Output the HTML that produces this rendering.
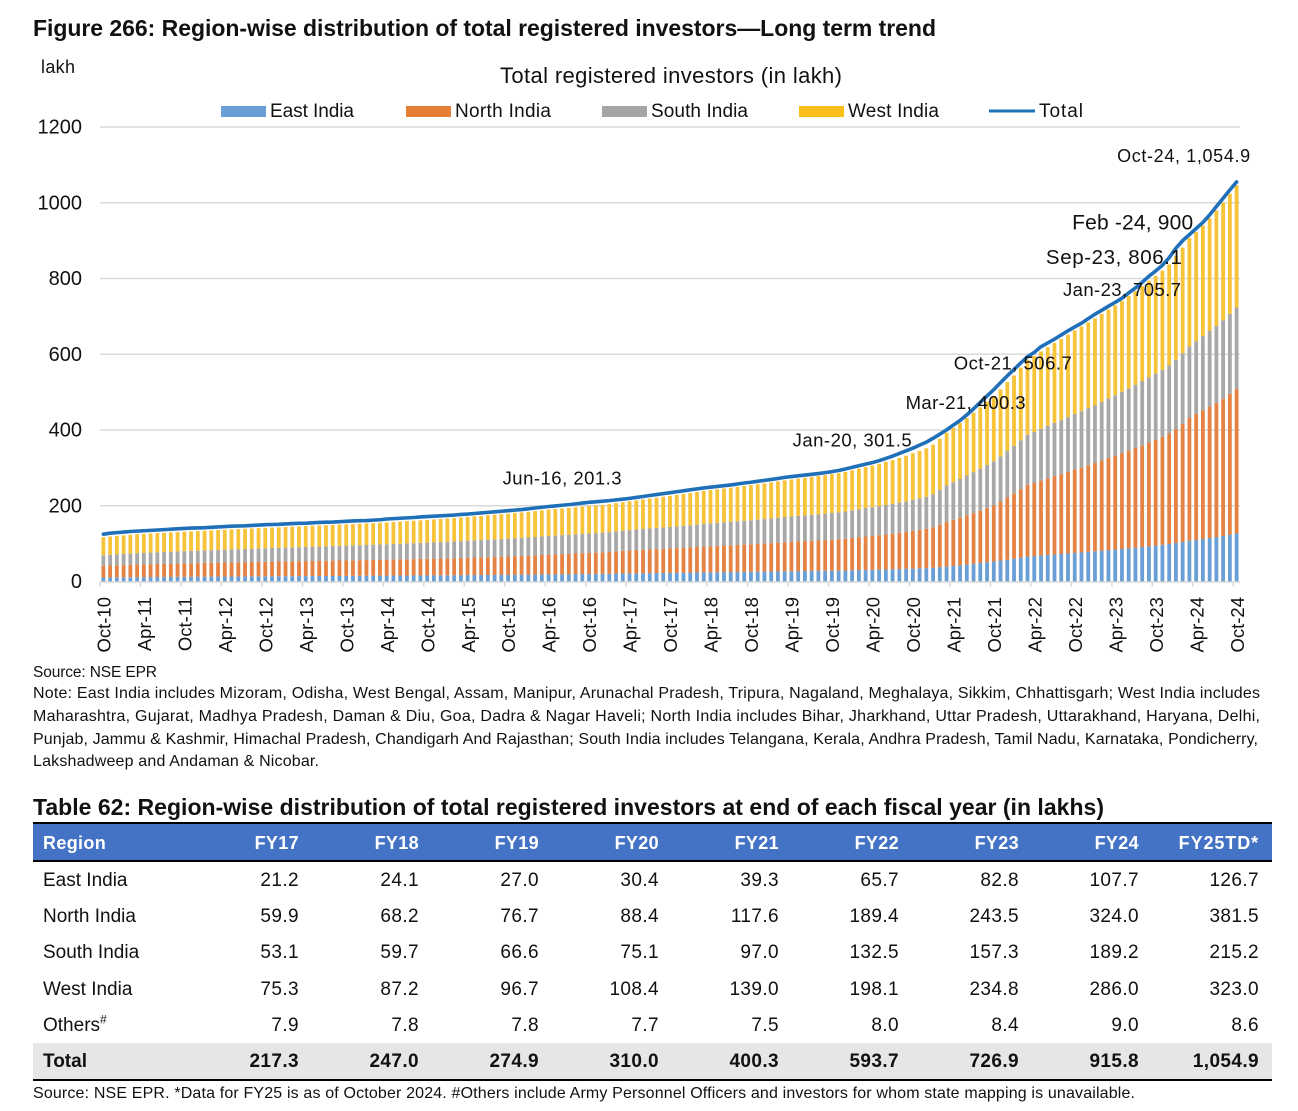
<!DOCTYPE html>
<html lang="en">
<head>
<meta charset="utf-8">
<title>Region-wise distribution of total registered investors</title>
<style>
html,body{margin:0;padding:0;background:#fff;}
body{position:relative;width:1298px;height:1111px;overflow:hidden;font-family:"Liberation Sans",sans-serif;color:#111;}
#page-svg{position:absolute;left:0;top:0;}
#page-svg text{font-family:"Liberation Sans",sans-serif;fill:#111;}
#table{position:absolute;left:33px;top:824px;width:1239px;border-collapse:collapse;table-layout:fixed;font-size:19px;letter-spacing:.4px;}
#table th,#table td{padding:0 13px 0 10px;text-align:right;white-space:nowrap;font-weight:normal;box-sizing:border-box;}
#table th{height:37px;padding-top:2px;background:#4472C4;color:#fff;font-weight:bold;font-size:18px;letter-spacing:.35px;border-bottom:2px solid #000;}
#table th.wide{letter-spacing:.9px;}
#table td{height:36.4px;padding-top:3px;}
#table td:first-child{letter-spacing:0;}
#table th:first-child,#table td:first-child{text-align:left;}
#table tr.total td{background:#E7E6E6;font-weight:bold;height:37px;border-bottom:2px solid #000;}
#table sup{font-size:12px;line-height:0;}
</style>
</head>
<body>
<svg id="page-svg" width="1298" height="1111" viewBox="0 0 1298 1111" xmlns="http://www.w3.org/2000/svg">
  <text x="33" y="36" font-size="23" font-weight="bold" textLength="903" lengthAdjust="spacing">Figure 266: Region-wise distribution of total registered investors—Long term trend</text>
  <text x="41" y="73" font-size="18" textLength="34" lengthAdjust="spacing">lakh</text>
  <text x="500" y="83" font-size="22" textLength="342" lengthAdjust="spacing">Total registered investors (in lakh)</text>

  <g>
    <rect x="221" y="106" width="45" height="11" fill="#6A9FD6"/>
    <text x="270" y="117" font-size="19" textLength="84" lengthAdjust="spacing">East India</text>
    <rect x="406" y="106" width="45" height="11" fill="#E57F38"/>
    <text x="455" y="117" font-size="19" textLength="96" lengthAdjust="spacing">North India</text>
    <rect x="602" y="106" width="45" height="11" fill="#A5A5A5"/>
    <text x="651" y="117" font-size="19" textLength="97" lengthAdjust="spacing">South India</text>
    <rect x="799" y="106" width="45" height="11" fill="#FBBF1C"/>
    <text x="848" y="117" font-size="19" textLength="91" lengthAdjust="spacing">West India</text>
    <line x1="989" y1="111" x2="1035" y2="111" stroke="#1F70B8" stroke-width="3"/>
    <text x="1039" y="117" font-size="19" textLength="44" lengthAdjust="spacing">Total</text>
  </g>

  <g id="grid"></g>
  <g id="yticks"></g>
  <g id="bars"></g>
  <g id="xaxis"></g>
  <path id="total-line" fill="none" stroke="#1F70B8" stroke-width="3.6" stroke-linejoin="round" stroke-linecap="round"></path>
  <g id="annotations"></g>

  <g font-size="16">
    <text x="33" y="677" font-size="15.5" textLength="124" lengthAdjust="spacing">Source: NSE EPR</text>
    <text x="33" y="698" font-size="16" textLength="1227" lengthAdjust="spacing">Note: East India includes Mizoram, Odisha, West Bengal, Assam, Manipur, Arunachal Pradesh, Tripura, Nagaland, Meghalaya, Sikkim, Chhattisgarh; West India includes</text>
    <text x="33" y="721" font-size="16" textLength="1227" lengthAdjust="spacing">Maharashtra, Gujarat, Madhya Pradesh, Daman &amp; Diu, Goa, Dadra &amp; Nagar Haveli; North India includes Bihar, Jharkhand, Uttar Pradesh, Uttarakhand, Haryana, Delhi,</text>
    <text x="33" y="744" font-size="16" textLength="1225" lengthAdjust="spacing">Punjab, Jammu &amp; Kashmir, Himachal Pradesh, Chandigarh And Rajasthan; South India includes Telangana, Kerala, Andhra Pradesh, Tamil Nadu, Karnataka, Pondicherry,</text>
    <text x="33" y="766" font-size="16" textLength="286" lengthAdjust="spacing">Lakshadweep and Andaman &amp; Nicobar.</text>
  </g>

  <text x="33" y="815" font-size="23" font-weight="bold" textLength="1071" lengthAdjust="spacing">Table 62: Region-wise distribution of total registered investors at end of each fiscal year (in lakhs)</text>
  <rect x="33" y="822" width="1239" height="2" fill="#000"/>
  <text x="33" y="1098" font-size="16" textLength="1102" lengthAdjust="spacing">Source: NSE EPR. *Data for FY25 is as of October 2024. #Others include Army Personnel Officers and investors for whom state mapping is unavailable.</text>
</svg>

<table id="table">
  <colgroup><col style="width:159px"><col style="width:120px"><col style="width:120px"><col style="width:120px"><col style="width:120px"><col style="width:120px"><col style="width:120px"><col style="width:120px"><col style="width:120px"></colgroup>
  <tr><th>Region</th><th>FY17</th><th>FY18</th><th>FY19</th><th>FY20</th><th>FY21</th><th>FY22</th><th>FY23</th><th>FY24</th><th class="wide">FY25TD*</th></tr>
  <tr><td>East India</td><td>21.2</td><td>24.1</td><td>27.0</td><td>30.4</td><td>39.3</td><td>65.7</td><td>82.8</td><td>107.7</td><td>126.7</td></tr>
  <tr><td>North India</td><td>59.9</td><td>68.2</td><td>76.7</td><td>88.4</td><td>117.6</td><td>189.4</td><td>243.5</td><td>324.0</td><td>381.5</td></tr>
  <tr><td>South India</td><td>53.1</td><td>59.7</td><td>66.6</td><td>75.1</td><td>97.0</td><td>132.5</td><td>157.3</td><td>189.2</td><td>215.2</td></tr>
  <tr><td>West India</td><td>75.3</td><td>87.2</td><td>96.7</td><td>108.4</td><td>139.0</td><td>198.1</td><td>234.8</td><td>286.0</td><td>323.0</td></tr>
  <tr><td>Others<sup>#</sup></td><td>7.9</td><td>7.8</td><td>7.8</td><td>7.7</td><td>7.5</td><td>8.0</td><td>8.4</td><td>9.0</td><td>8.6</td></tr>
  <tr class="total"><td>Total</td><td>217.3</td><td>247.0</td><td>274.9</td><td>310.0</td><td>400.3</td><td>593.7</td><td>726.9</td><td>915.8</td><td>1,054.9</td></tr>
</table>

<script>
const yTicks = [0, 200, 400, 600, 800, 1000, 1200];
const tickLabels = ["Oct-10","Apr-11","Oct-11","Apr-12","Oct-12","Apr-13","Oct-13","Apr-14","Oct-14","Apr-15","Oct-15","Apr-16","Oct-16","Apr-17","Oct-17","Apr-18","Oct-18","Apr-19","Oct-19","Apr-20","Oct-20","Apr-21","Oct-21","Apr-22","Oct-22","Apr-23","Oct-23","Apr-24","Oct-24"];

const eastIndia = [10.5,10.7,10.9,11,11.2,11.4,
11.5,11.7,11.8,12,12.1,12.3,12.4,12.5,12.6,12.8,12.9,13,
13.1,13.2,13.3,13.4,13.5,13.6,13.7,13.8,13.9,14,14.1,14.2,
14.3,14.4,14.5,14.6,14.7,14.8,14.9,15,15.1,15.2,15.3,15.4,
15.5,15.6,15.7,15.8,15.9,16,16.1,16.2,16.3,16.4,16.5,16.6,
16.8,16.9,17,17.2,17.3,17.5,17.6,17.8,17.9,18.1,18.3,18.5,
18.7,18.9,19.1,19.3,19.5,19.7,19.9,20.1,20.3,20.6,20.9,21.2,
21.4,21.6,21.9,22.1,22.3,22.6,22.8,23,23.3,23.5,23.8,24.1,
24.3,24.5,24.8,25,25.2,25.4,25.6,25.9,26.1,26.4,26.7,27,
27.2,27.4,27.6,27.9,28.1,28.3,28.6,28.8,29.1,29.6,30,30.4,
30.8,31.2,31.7,32.2,32.8,33.3,33.9,34.6,35.3,36.3,37.8,39.3,
41,42.7,44.7,46.7,48.8,50.9,53,55.2,57.5,60,62.8,65.7,
67,68.4,69.8,71.2,72.6,74,75.4,76.8,78.3,79.8,81.3,82.8,
84.3,85.8,87.6,89.4,91.2,93,94.9,96.8,98.9,101.6,104.6,107.7,
109.5,112,114.8,117.6,120.5,123.6,126.7];

const northIndia = [31,31.5,32,32.5,33,33.4,
33.8,34.1,34.4,34.7,35,35.3,35.6,35.9,36.1,36.3,36.6,36.9,
37.1,37.3,37.5,37.7,37.9,38.1,38.4,38.6,38.8,39,39.2,39.4,
39.6,39.8,40,40.2,40.4,40.6,40.8,41,41.2,41.4,41.6,41.8,
42.1,42.4,42.7,43,43.3,43.6,43.9,44.2,44.5,44.8,45.1,45.5,
45.9,46.3,46.7,47.1,47.6,48,48.5,49,49.5,50,50.7,51.4,
52.2,52.8,53.4,53.9,54.4,55,55.6,56.1,56.6,57.6,58.8,59.9,
60.6,61.3,62,62.6,63.2,63.8,64.5,65.1,65.8,66.5,67.3,68.2,
68.9,69.5,70.1,70.7,71.3,72,72.6,73.3,74,74.9,75.8,76.7,
77.4,78.1,78.8,79.5,80.2,80.9,81.7,82.6,83.7,85.5,87,88.4,
89.6,91,92.6,94.2,96,97.8,99.8,101.8,104,107,112,117.6,
122,126,130,134,138,143,148,156,165,173,181,189.4,
193,198,202.5,207,211,215.5,220,224,228.5,233,238,243.5,
248,253,258,263,268.5,274,279.5,285,292,301,312,324,
333,340,347,354,362,372,381.5];

const southIndia = [28,28.4,28.8,29.2,29.6,30,
30.3,30.6,30.9,31.2,31.5,31.8,32.1,32.4,32.7,33,33.2,33.5,
33.8,34.1,34.4,34.7,35,35.3,35.6,35.9,36.2,36.5,36.8,37,
37.3,37.6,37.9,38.2,38.5,38.8,39.1,39.4,39.7,40,40.2,40.5,
40.8,41.1,41.4,41.7,42,42.3,42.6,43,43.4,43.8,44.2,44.5,
44.9,45.3,45.6,46,46.3,46.6,47,47.3,47.7,48.1,48.5,49,
49.3,49.6,50,50.3,50.6,51,51.3,51.6,51.9,52.2,52.7,53.1,
53.6,54.2,54.7,55.2,55.7,56.2,56.8,57.3,57.9,58.5,59.1,59.7,
60.3,60.8,61.4,61.9,62.5,63,63.6,64.2,64.7,65.3,66,66.6,
67.1,67.7,68.2,68.8,69.3,69.9,70.5,71.1,71.9,72.9,74,75.1,
75.8,76.6,77.5,78.4,79.5,80.6,81.8,83,84.5,87,92,97,
99.5,102,105,108,111,114,116.5,119,122,125,129,132.5,
134.5,136.5,138.5,140.5,142.5,144.5,147,149,151,153,155,157.3,
159.5,162,164.5,167,169.5,172,174.5,177,180,183,186,189.2,
192,196,199.5,203,207,211,215.2];

const westIndia = [47.5,48.2,48.8,49.1,49.6,50,
50.2,50.4,50.6,50.8,51,51.2,51.4,51.6,51.8,52,52.3,52.6,
52.8,53,53.2,53.4,53.6,53.8,54,54.1,54.3,54.5,54.7,54.9,
55.1,55.3,55.5,55.6,55.8,56,56.2,56.4,56.6,56.8,57,57.3,
57.7,58.1,58.5,58.9,59.3,59.7,60.1,60.5,60.9,61.3,61.8,62.4,
62.9,63.4,64,64.6,65.2,65.7,66.2,66.8,67.3,67.8,68.4,69.1,
69.6,70,70.4,71,71.5,72,72.5,72.9,73.3,73.8,74.5,75.3,
76.2,77.1,78.1,79.1,80.1,81.1,82.1,83.1,84.1,85.1,86.1,87.2,
87.9,88.7,89.4,90.2,91,91.8,92.6,93.4,94.2,95,95.8,96.7,
97.5,98.3,99.2,100,100.9,101.8,102.7,103.5,104.4,105.5,107,108.4,
110,112,114,116,118,120.5,123,125.5,128,131,135,139,
143,147.5,152,157,162,167,172,177,182,186,192,198.1,
201,204.5,208,211,214,217.5,220.5,223.5,226.5,229,232,234.8,
237.5,240,244,247,250.5,255,258,262,266,274,279,286,
288,292,298,305,311,317,323];

const totalInvestors = [125,127.5,129,130.5,132,133,
134,135,136,137,138,139,140,141,141.5,142,143,144,
145,146,146.5,147,148,149,150,150.5,151,152,153,153.5,
154,155,156,156.5,157,158,159,160,160.5,161,162,163,
165,166,167,168,169,170.5,171.5,172.5,173.5,174.5,175.5,177,
178,179.5,181,182.5,184,185.5,187,188.5,190,192,194,196,
198,199.5,201.3,203,205,207,209,210.5,212,213.5,215.5,217.3,
219.5,222,224.5,227,229.5,232,234.5,237,239.5,242,244.5,247,
249,251,253,255,257.5,260,262,264.5,267,269.5,272,274.9,
277,279,281,283,285,287.5,290,293,297,301.5,305.5,310,
314,319,325,331,338,345,352,360,368,378,389,400.3,
413,425,440,456,473,490,506.7,525,543,560,577,593.7,
605,620,630,640,651,662,672,682,694,705.7,716,726.9,
737,748,762,775,790,806.1,820,835,855,880,900,915.8,
932,948,968,990,1012,1034,1054.9];

const annotationIndexes = [68, 111, 125, 132, 147, 155, 160, 168];
const annotationLabels = ["Jun-16, 201.3","Jan-20, 301.5","Mar-21, 400.3","Oct-21, 506.7","Jan-23, 705.7","Sep-23, 806.1","Feb -24, 900","Oct-24, 1,054.9"];

const SVG_NS = "http://www.w3.org/2000/svg";
const PLOT = {left:100, right:1240, zero:581.5, top:127, maxValue:1200};
const colors = {east:"#6A9FD6", north:"#E58344", south:"#A8A8A8", west:"#F6C339"};
const labelOffsets = [[0,-21,18.5],[0,-21,18.5],[19,-21,18.5],[19,-20,18.5],[27,-18,18.5],[-35,-12,20.5],[-50,-11,21],[-53,-20,18]];
const labelWidths = [119,119,120,118,118,136,121,133];

function xBand(){ return (PLOT.right - PLOT.left) / totalInvestors.length; }
function xScale(i){ return PLOT.left + (i + 0.5) * xBand(); }
function yScale(v){ return PLOT.zero - v * (PLOT.zero - PLOT.top) / PLOT.maxValue; }
function mk(tag, attrs, parent){
  const el = document.createElementNS(SVG_NS, tag);
  for (const k in attrs) el.setAttribute(k, attrs[k]);
  parent.appendChild(el);
  return el;
}

const gridG = document.getElementById("grid");
const yG = document.getElementById("yticks");
yTicks.forEach(function(v){
  if (v > 0) {
    const g = mk("line", {x1:PLOT.left, x2:PLOT.right, y1:yScale(v), y2:yScale(v), stroke:"#D9D9D9", "stroke-width":1.5}, gridG);
    
    
  }
  const t = mk("text", {x:82, y:yScale(v)+6.5, "text-anchor":"end", "font-size":20}, yG);
  t.textContent = String(v);
  
  
});

const barsG = document.getElementById("bars");
const stackSeries = [["east",eastIndia],["north",northIndia],["south",southIndia],["west",westIndia]];
totalInvestors.forEach(function(_, i){
  let base = 0;
  stackSeries.forEach(function(s){
    const v = s[1][i];
    const r = mk("rect", {x:xScale(i)-1.9, width:3.8, y:yScale(base+v), height:yScale(base)-yScale(base+v), fill:colors[s[0]]}, barsG);
    
    
    base += v;
  });
});

const xG = document.getElementById("xaxis");
const axisLine = mk("line", {x1:PLOT.left, x2:PLOT.right, y1:PLOT.zero+0.5, y2:PLOT.zero+0.5, stroke:"#D9D9D9", "stroke-width":1.5}, xG);


tickLabels.forEach(function(lab, k){
  const tx = PLOT.left + k * 6 * xBand();
  const tick = mk("line", {x1:tx, x2:tx, y1:PLOT.zero, y2:PLOT.zero+5, stroke:"#D9D9D9", "stroke-width":1.5}, xG);
  
  
  const bx = tx + 10.5;
  const t = mk("text", {x:bx, y:597, "text-anchor":"end", "font-size":18.5, transform:"rotate(-90 "+bx+" 597)"}, xG);
  t.textContent = lab;
  
  
});

document.getElementById("total-line").setAttribute("d", totalInvestors.map(function(v,i){
  return (i ? "L" : "M") + xScale(i).toFixed(2) + " " + yScale(v).toFixed(2);
}).join(" "));

const annG = document.getElementById("annotations");
annotationIndexes.forEach(function(idx, k){
  const o = labelOffsets[k];
  const t = mk("text", {x:xScale(idx)+o[0], y:yScale(totalInvestors[idx])+o[1], "text-anchor":"middle", "font-size":o[2], textLength:labelWidths[k], lengthAdjust:"spacing"}, annG);
  t.textContent = annotationLabels[k];
  
  
});
</script>
</body>
</html>
